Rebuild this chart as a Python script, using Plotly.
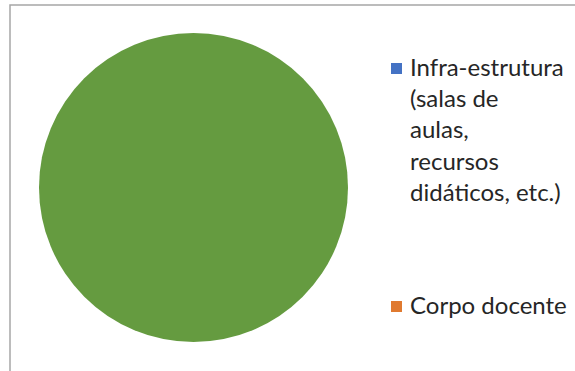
import plotly.graph_objects as go

# Pie data (only the green category has a value; Excel legend shows only the first two)
labels = ["Infra-estrutura (salas de aulas, recursos didáticos, etc.)", "Corpo docente", "Ambos"]
values = [0, 0, 1]
colors = ["#4472C4", "#E07A30", "#659B40"]

# How the legend text wraps in the original
legend_text = {
    labels[0]: "Infra-estrutura<br>(salas de<br>aulas,<br>recursos<br>didáticos, etc.)",
    labels[1]: "Corpo docente",
}
legend_items = [labels[0], labels[1]]

W, H = 575, 371

fig = go.Figure(go.Pie(
    labels=labels, values=values, sort=False, direction="clockwise",
    marker=dict(colors=colors, line=dict(width=0)),
    textinfo="none", showlegend=False,
    domain=dict(x=[39 / W, 348 / W], y=[1 - 342 / H, 1 - 33 / H]),
))

# hand-made legend, placed like the Excel one
legend_tops = [61, 299]
shapes = [dict(type="rect", xref="paper", yref="paper",
               x0=10 / W, x1=1.2, y0=-0.2, y1=1 - 5 / H,
               line=dict(color="#A6A6A6", width=1.5), fillcolor="rgba(0,0,0,0)")]
annotations = []
for name, top in zip(legend_items, legend_tops):
    c = colors[labels.index(name)]
    shapes.append(dict(type="rect", xref="paper", yref="paper",
                       x0=391 / W, x1=402 / W, y0=1 - (top + 13) / H, y1=1 - (top + 2) / H,
                       fillcolor=c, line=dict(width=0)))
    annotations.append(dict(text=legend_text[name], xref="paper", yref="paper",
                            x=408 / W, y=1 - (top - 11) / H, xanchor="left", yanchor="top",
                            align="left", showarrow=False,
                            font=dict(family="Lato", size=24, color="#262626")))

fig.update_layout(
    width=W, height=H, margin=dict(l=0, r=0, t=0, b=0),
    paper_bgcolor="white", plot_bgcolor="white",
    shapes=shapes, annotations=annotations,
)

fig.write_html("out.html", config={"displayModeBar": False},
               post_script="document.body.style.margin='0';")
